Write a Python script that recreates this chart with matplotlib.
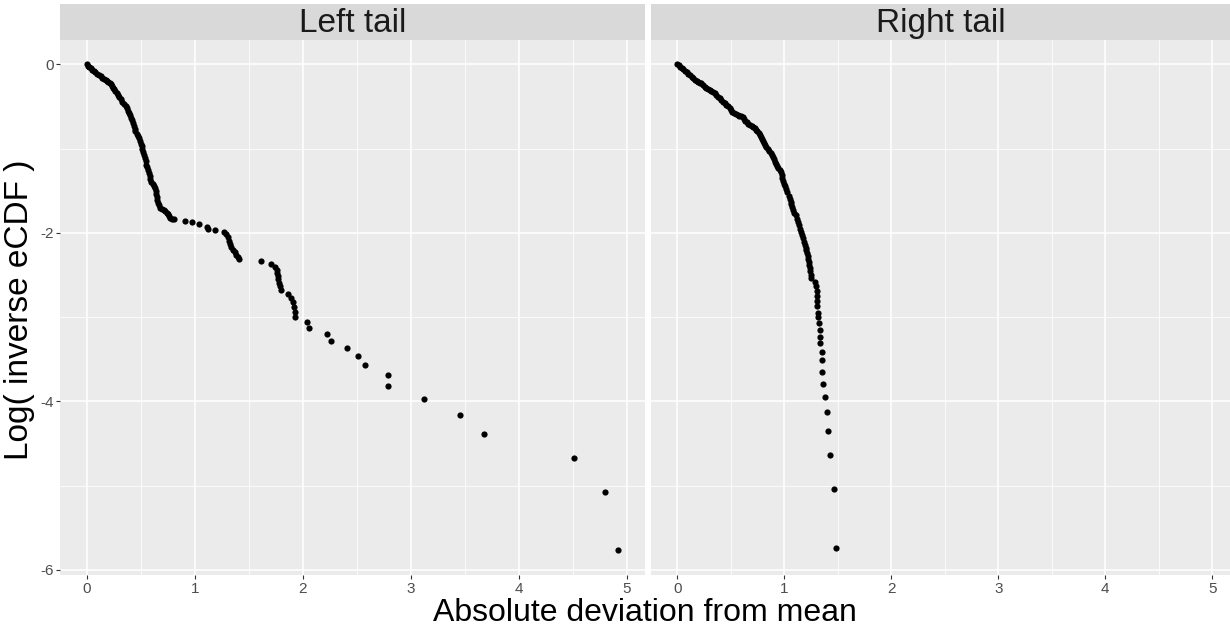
import matplotlib
matplotlib.use("Agg")
import matplotlib.pyplot as plt
from matplotlib.ticker import FixedLocator

plt.rcParams['font.family'] = ['Liberation Sans', 'DejaVu Sans']

# ---- data: absolute deviation from mean vs log of the inverse eCDF ----
panel_titles = ["Left tail", "Right tail"]

left_x = [
    0.000, 0.012, 0.025, 0.038, 0.052, 0.066, 0.082, 0.098, 0.113, 0.129,
    0.145, 0.160, 0.176, 0.191, 0.202, 0.212, 0.222, 0.232, 0.242, 0.252,
    0.264, 0.277, 0.289, 0.302, 0.316, 0.329, 0.344, 0.360, 0.375, 0.386,
    0.396, 0.406, 0.414, 0.423, 0.431, 0.438, 0.445, 0.452, 0.462, 0.473,
    0.483, 0.491, 0.500, 0.508, 0.515, 0.522, 0.529, 0.537, 0.546, 0.554,
    0.561, 0.568, 0.575, 0.582, 0.590, 0.597, 0.612, 0.628, 0.635, 0.641,
    0.646, 0.650, 0.655, 0.659, 0.668, 0.677, 0.694, 0.712, 0.729, 0.740,
    0.751, 0.764, 0.776, 0.791, 0.806,
    0.914, 0.977, 1.036, 1.112, 1.120, 1.190,
    1.274, 1.293, 1.305, 1.317, 1.330, 1.339, 1.354, 1.369, 1.385, 1.397, 1.406,
    1.616, 1.708, 1.739, 1.757, 1.763, 1.769, 1.775, 1.782, 1.791, 1.803,
    1.862, 1.893, 1.905, 1.917, 1.928, 1.932,
    2.043, 2.059, 2.228, 2.265, 2.406, 2.508, 2.576, 2.785, 2.785,
    3.124, 3.459, 3.678, 4.509, 4.795, 4.915,
]
left_y = [
    0.000, -0.014, -0.030, -0.046, -0.063, -0.077, -0.094, -0.110, -0.125, -0.141,
    -0.157, -0.170, -0.183, -0.196, -0.210, -0.222, -0.235, -0.256, -0.277, -0.298,
    -0.320, -0.343, -0.365, -0.391, -0.417, -0.443, -0.469, -0.496, -0.522, -0.548,
    -0.574, -0.600, -0.633, -0.665, -0.698, -0.731, -0.763, -0.796, -0.822, -0.849,
    -0.875, -0.908, -0.940, -0.973, -1.005, -1.038, -1.070, -1.110, -1.150, -1.190,
    -1.223, -1.257, -1.290, -1.327, -1.363, -1.400, -1.420, -1.440, -1.473, -1.507,
    -1.540, -1.573, -1.607, -1.640, -1.675, -1.710, -1.720, -1.730, -1.740, -1.760,
    -1.780, -1.800, -1.820, -1.830, -1.840,
    -1.856, -1.876, -1.898, -1.932, -1.948, -1.963,
    -1.986, -2.013, -2.052, -2.092, -2.131, -2.170, -2.202, -2.229, -2.261, -2.288, -2.308,
    -2.334, -2.367, -2.401, -2.436, -2.472, -2.510, -2.549, -2.590, -2.633, -2.677,
    -2.723, -2.773, -2.824, -2.878, -2.935, -2.996,
    -3.061, -3.130, -3.200, -3.280, -3.370, -3.466, -3.571, -3.689, -3.823,
    -3.977, -4.159, -4.382, -4.670, -5.075, -5.768,
]

right_x = [
    0.000, 0.013, 0.027, 0.040, 0.056, 0.071, 0.087, 0.102, 0.118, 0.133,
    0.149, 0.164, 0.180, 0.195, 0.211, 0.226, 0.241, 0.256, 0.272, 0.287,
    0.303, 0.318, 0.334, 0.349, 0.364, 0.380, 0.395, 0.411, 0.426, 0.442,
    0.457, 0.473, 0.488, 0.500, 0.513, 0.530, 0.548, 0.565, 0.580, 0.596,
    0.611, 0.623, 0.636, 0.648, 0.665, 0.681, 0.698, 0.710, 0.723, 0.735,
    0.747, 0.760, 0.772, 0.782, 0.793, 0.803, 0.813, 0.823, 0.833, 0.847,
    0.860, 0.874, 0.884, 0.895, 0.905, 0.915, 0.925, 0.935, 0.945, 0.956,
    0.966, 0.974, 0.981, 0.988, 0.998, 1.009, 1.019, 1.029, 1.040, 1.050,
    1.058, 1.066, 1.074, 1.085, 1.095, 1.106, 1.116, 1.126, 1.136, 1.146,
    1.157, 1.167, 1.175, 1.184, 1.192, 1.199, 1.206, 1.213, 1.218, 1.224,
    1.229, 1.234, 1.239, 1.244, 1.249, 1.253,
    1.290, 1.296, 1.303, 1.306, 1.306, 1.309, 1.312, 1.315, 1.324, 1.331,
    1.334, 1.338, 1.350, 1.352, 1.352, 1.358, 1.383, 1.402, 1.407, 1.429,
    1.460, 1.481,
]
right_y = [
    0.000, -0.013, -0.027, -0.040, -0.057, -0.073, -0.090, -0.110, -0.129, -0.149,
    -0.165, -0.180, -0.196, -0.206, -0.217, -0.227, -0.247, -0.266, -0.279, -0.292,
    -0.305, -0.318, -0.331, -0.344, -0.364, -0.383, -0.403, -0.422, -0.442, -0.461,
    -0.481, -0.500, -0.520, -0.544, -0.567, -0.578, -0.588, -0.599, -0.608, -0.617,
    -0.626, -0.647, -0.668, -0.689, -0.702, -0.715, -0.728, -0.744, -0.759, -0.775,
    -0.794, -0.814, -0.833, -0.859, -0.886, -0.912, -0.934, -0.956, -0.978, -1.001,
    -1.025, -1.048, -1.074, -1.101, -1.127, -1.153, -1.179, -1.205, -1.231, -1.257,
    -1.283, -1.316, -1.348, -1.381, -1.414, -1.446, -1.479, -1.518, -1.557, -1.596,
    -1.629, -1.661, -1.694, -1.727, -1.759, -1.792, -1.831, -1.871, -1.910, -1.949,
    -1.988, -2.027, -2.066, -2.105, -2.144, -2.177, -2.209, -2.242, -2.275, -2.307,
    -2.340, -2.379, -2.418, -2.457, -2.496, -2.535,
    -2.582, -2.630, -2.690, -2.750, -2.810, -2.870, -2.950, -3.000, -3.070, -3.150,
    -3.230, -3.310, -3.410, -3.510, -3.655, -3.790, -3.946, -4.126, -4.346, -4.635,
    -5.040, -5.734,
]

x_ticks = [0, 1, 2, 3, 4, 5]
y_ticks = [0, -2, -4, -6]
x_label = "Absolute deviation from mean"
y_label = "Log( inverse eCDF )"

# ---- layout (ggplot-like facet_wrap) ----
W, H = 1230, 628
fig = plt.figure(figsize=(W / 100, H / 100), dpi=100)
fig.patch.set_facecolor("white")

panel_top, panel_bottom = 40, 575
strip_top = 4
panels_px = [(60, 645), (651, 1230)]

xlim = (-0.246, 5.166)
ylim = (-6.06, 0.289)

series = [(left_x, left_y), (right_x, right_y)]

for i, ((x0, x1), (xs, ys), title) in enumerate(zip(panels_px, series, panel_titles)):
    ax = fig.add_axes([x0 / W, (H - panel_bottom) / H, (x1 - x0) / W,
                       (panel_bottom - panel_top) / H])
    ax.set_facecolor("#EBEBEB")
    for s in ax.spines.values():
        s.set_visible(False)
    ax.set_xlim(*xlim)
    ax.set_ylim(*ylim)
    ax.xaxis.set_major_locator(FixedLocator(x_ticks))
    ax.xaxis.set_minor_locator(FixedLocator([0.5, 1.5, 2.5, 3.5, 4.5]))
    ax.yaxis.set_major_locator(FixedLocator(y_ticks))
    ax.yaxis.set_minor_locator(FixedLocator([-1, -3, -5]))
    ax.grid(which="major", color="white", linewidth=1.1)
    ax.grid(which="minor", color="white", linewidth=0.55)
    ax.set_axisbelow(True)
    ax.tick_params(which="minor", length=0)
    ax.tick_params(which="major", length=3.2, width=0.8, color="#333333",
                   labelcolor="#4D4D4D", labelsize=11, pad=1.5)
    ax.set_xticklabels([str(t) for t in x_ticks])
    if i == 0:
        ax.set_yticklabels([str(t) for t in y_ticks])
    else:
        ax.tick_params(axis="y", which="both", left=False, labelleft=False)

    ax.scatter(xs, ys, s=20, color="black", linewidths=0, zorder=3)

    # facet strip
    sax = fig.add_axes([x0 / W, (H - panel_top) / H, (x1 - x0) / W,
                        (panel_top - strip_top) / H])
    sax.set_facecolor("#D9D9D9")
    sax.set_xticks([])
    sax.set_yticks([])
    for s in sax.spines.values():
        s.set_visible(False)
    sax.text(0.5, 0.47, title, ha="center", va="center", fontsize=24,
             color="#1A1A1A", transform=sax.transAxes)

fig.text(645 / W, 1 - 613 / H, x_label, ha="center", va="center",
         fontsize=23, color="black")
fig.text(20 / W, 1 - 310 / H, y_label, ha="center", va="center",
         fontsize=24, color="black", rotation=90)

fig.savefig("out.png", dpi=100, facecolor="white")
